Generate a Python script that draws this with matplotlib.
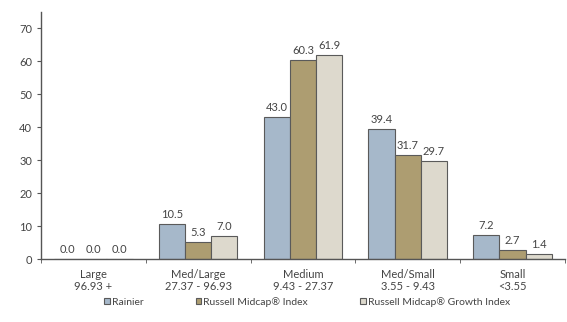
import matplotlib
matplotlib.use("Agg")
import matplotlib.pyplot as plt
import numpy as np

plt.rcParams["font.family"] = ["Lato", "DejaVu Sans"]

categories = ["Large\n96.93 +", "Med/Large\n27.37 - 96.93", "Medium\n9.43 - 27.37",
              "Med/Small\n3.55 - 9.43", "Small\n<3.55"]
series_names = ["Rainier", "Russell Midcap\u00ae Index", "Russell Midcap\u00ae Growth Index"]
rainier = [0.0, 10.5, 43.0, 39.4, 7.2]
midcap = [0.0, 5.3, 60.3, 31.7, 2.7]
growth = [0.0, 7.0, 61.9, 29.7, 1.4]
colors = ["#A6B8CA", "#AD9D71", "#DDD9CD"]

fig = plt.figure(figsize=(5.67, 3.22), dpi=100)
ax = fig.add_axes([41 / 567, 1 - 259 / 322, 524 / 567, 247 / 322])

x = np.arange(len(categories))
width = 0.25
text_color = "#444444"
for i, (vals, name, col) in enumerate(zip([rainier, midcap, growth], series_names, colors)):
    pos = x + (i - 1) * width
    ax.bar(pos, vals, width, color=col, edgecolor="#5a5a5a", linewidth=0.8, label=name)
    for px, v in zip(pos, vals):
        ax.text(px, v + 1.2, f"{v:.1f}", ha="center", va="bottom", fontsize=8, color=text_color)

ax.set_xlim(-0.5, len(categories) - 0.5)
ax.set_ylim(0, 75)
ax.set_yticks(range(0, 71, 10))
ax.set_xticks(x)
ax.set_xticklabels(categories, fontsize=8, color=text_color, linespacing=1.1)
ax.set_xticks(np.arange(-0.5, len(categories), 1), minor=True)
ax.tick_params(axis="x", which="major", length=0, pad=7)
ax.tick_params(axis="x", which="minor", length=3, direction="out", color="#555555")
ax.tick_params(axis="y", labelsize=8, labelcolor=text_color, length=3, color="#555555")
for s in ["top", "right"]:
    ax.spines[s].set_visible(False)
for s in ["left", "bottom"]:
    ax.spines[s].set_color("#555555")
    ax.spines[s].set_linewidth(1.0)

fig.legend(loc="center", bbox_to_anchor=(307 / 567, 1 - 302 / 322), ncol=3, frameon=False,
           fontsize=7.5, handlelength=0.55, handleheight=0.55, handletextpad=0.2,
           columnspacing=5.0, labelcolor=text_color)

fig.savefig("out.png", dpi=100)
